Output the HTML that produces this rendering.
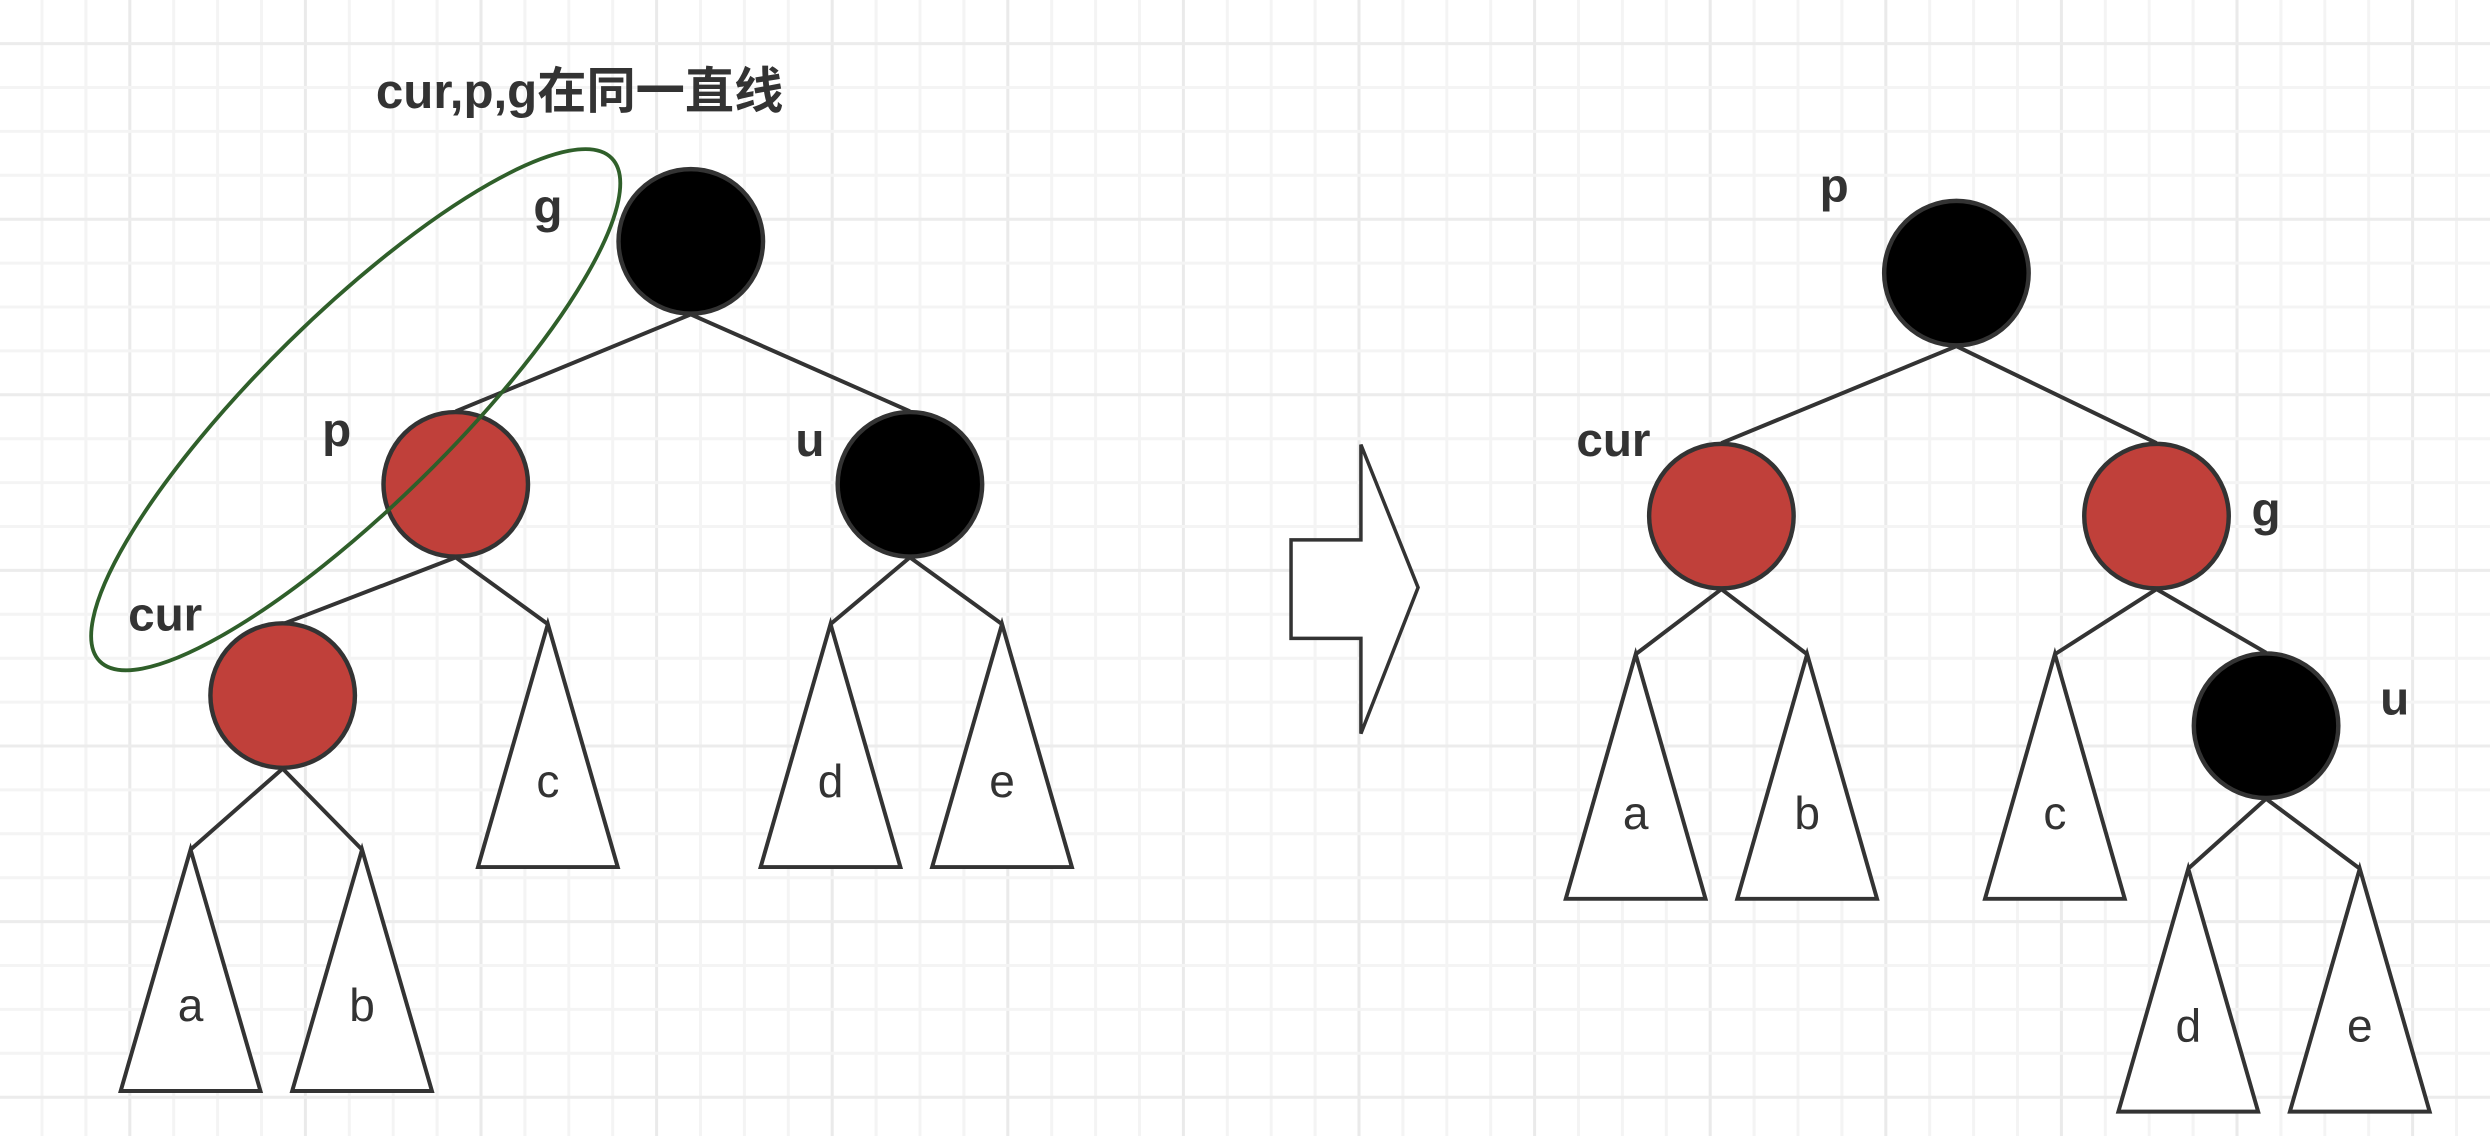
<!DOCTYPE html>
<html><head><meta charset="utf-8"><style>
html,body{margin:0;padding:0;background:#fff;}
svg{display:block;}
text{font-family:"Liberation Sans","Noto Sans CJK SC",sans-serif;fill:#333;}
</style></head><body>
<svg id="s" width="2490" height="1136" viewBox="0 0 2490 1136">
<g id="grid"></g>
<g transform="scale(1.588)">
<g id="scene"></g>
<ellipse cx="224" cy="258" rx="226" ry="60" transform="rotate(-44.5 224 258)" fill="none" stroke="#2f5f2a" stroke-width="2.4"/>
<polygon points="813,340 857,340 857,280 893,370 857,462 857,402 813,402" fill="#fff" stroke="#333" stroke-width="2.2"/>
<text x="365" y="68" font-size="31" font-weight="bold" text-anchor="middle">cur,p,g在同一直线</text>
</g>
</svg>
<script>
const NS='http://www.w3.org/2000/svg';
// nodes: [id, cx, cy, color, labelX, labelY]
const nodes=[
 ['g',435,152,'#000',345,140],['p',287,305,'#c0403a',212,281],['u',573,305,'#000',510,287],['cur',178,438,'#c0403a',104,397],
 ['p2',1232,172,'#000',1155,127],['cur2',1084,325,'#c0403a',1016,287],['g2',1358,325,'#c0403a',1427,331],['u2',1427,457,'#000',1508,450]
];
const nodeLabels=['g','p','u','cur','p','cur','g','u'];
// triangles: [label, apexX, apexY, baseY]
const tris=[['c',345,393,546],['d',523,393,546],['e',631,393,546],['a',120,535,687],['b',228,535,687],
 ['a',1030,412,566],['b',1138,412,566],['c',1294,412,566],['d',1378,547,700],['e',1486,547,700]];
// edges: [x1,y1,x2,y2]
const edges=[[435,198,287,259],[435,198,573,259],[287,351,178,393],[287,351,345,393],[178,484,120,535],[178,484,228,535],[573,351,523,393],[573,351,631,393],
 [1232,218,1084,279],[1232,218,1358,279],[1084,371,1030,412],[1084,371,1138,412],[1358,371,1294,412],[1358,371,1427,411],[1427,503,1378,547],[1427,503,1486,547]];
const grid=document.getElementById('grid');
for(let x=42;x<2490;x+=43.9){const i=Math.round((x-42)/43.9);const l=document.createElementNS(NS,'line');
l.setAttribute('x1',x);l.setAttribute('x2',x);l.setAttribute('y1',0);l.setAttribute('y2',1136);
l.setAttribute('stroke',i%4==2?'#eaeaea':'#f4f4f4');l.setAttribute('stroke-width',3);


grid.appendChild(l);}
for(let y=43.6;y<1136;y+=43.9){const i=Math.round((y-43.6)/43.9);const l=document.createElementNS(NS,'line');
l.setAttribute('y1',y);l.setAttribute('y2',y);l.setAttribute('x1',0);l.setAttribute('x2',2490);
l.setAttribute('stroke',i%4==0?'#ececec':'#f4f4f4');l.setAttribute('stroke-width',3);


grid.appendChild(l);}
const sc=document.getElementById('scene');
edges.forEach(e=>{const l=document.createElementNS(NS,'line');
l.setAttribute('x1',e[0]);l.setAttribute('y1',e[1]);l.setAttribute('x2',e[2]);l.setAttribute('y2',e[3]);
l.setAttribute('stroke','#333');l.setAttribute('stroke-width',2.5);


sc.appendChild(l);});
tris.forEach(t=>{const p=document.createElementNS(NS,'polygon');
p.setAttribute('points',`${t[1]},${t[2]} ${t[1]-44},${t[3]} ${t[1]+44},${t[3]}`);
p.setAttribute('fill','#fff');p.setAttribute('stroke','#333');p.setAttribute('stroke-width',2.5);


sc.appendChild(p);
const tx=document.createElementNS(NS,'text');tx.setAttribute('x',t[1]);tx.setAttribute('y',t[3]-44);
tx.setAttribute('font-size',29);tx.setAttribute('text-anchor','middle');tx.textContent=t[0];


sc.appendChild(tx);});
nodes.forEach((n,i)=>{const c=document.createElementNS(NS,'circle');
c.setAttribute('cx',n[1]);c.setAttribute('cy',n[2]);c.setAttribute('r',45.5);
c.setAttribute('fill',n[3]);c.setAttribute('stroke','#333');c.setAttribute('stroke-width',2.8);


sc.appendChild(c);
const tx=document.createElementNS(NS,'text');tx.setAttribute('x',n[4]);tx.setAttribute('y',n[5]);
tx.setAttribute('font-size',30);tx.setAttribute('font-weight','bold');tx.setAttribute('text-anchor','middle');
tx.textContent=nodeLabels[i];


sc.appendChild(tx);});
</script>
</body></html>
